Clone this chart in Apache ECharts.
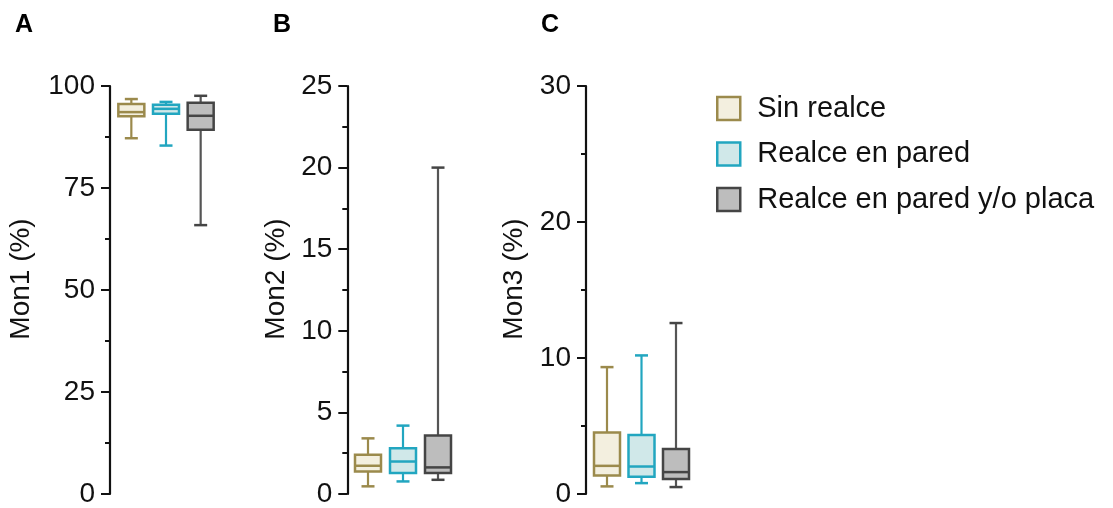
<!DOCTYPE html>
<html>
<head>
<meta charset="utf-8">
<style>
  html, body { margin: 0; padding: 0; background: #fff; }
  #main { width: 1113px; height: 508px; }
</style>
</head>
<body>
<div id="main"></div>
<script src="https://cdn.jsdelivr.net/npm/echarts@6/dist/echarts.min.js"></script>
<script>
// grupos y valores [min, q1, mediana, q3, max]
var groups = ['Sin realce', 'Realce en pared', 'Realce en pared y/o placa'];
var mon1 = [[87.2, 92.6, 93.6, 95.6, 96.8], [85.4, 93.2, 94.4, 95.4, 96.1], [65.9, 89.3, 92.7, 95.9, 97.6]];
var mon2 = [[0.47, 1.38, 1.73, 2.40, 3.41], [0.77, 1.28, 1.99, 2.80, 4.19], [0.87, 1.28, 1.63, 3.58, 20.0]];
var mon3 = [[0.56, 1.36, 2.07, 4.53, 9.33], [0.80, 1.27, 2.02, 4.34, 10.19], [0.51, 1.10, 1.61, 3.31, 12.57]];
var yNames = ['Mon1 (%)', 'Mon2 (%)', 'Mon3 (%)'];
var yMax = [100, 25, 30];
var yStep = [25, 5, 10];
var panels = ['A', 'B', 'C'];

var strokes = ['#9b8a4c', '#22a6c0', '#454545'];
var fills = ['#f3efdf', '#d0e8e9', '#bdbdbd'];
var FONT = 'Liberation Sans';

var myChart = echarts.init(document.getElementById('main'));

// caja con bigotes dibujada con las escalas del eje
function renderBox(params, api) {
    var x = api.value(0);
    var lo = api.coord([x, api.value(1)]);
    var q1 = api.coord([x, api.value(2)]);
    var med = api.coord([x, api.value(3)]);
    var q3 = api.coord([x, api.value(4)]);
    var hi = api.coord([x, api.value(5)]);
    var cx = lo[0], bw = 26, cw = 13;
    var g = x;
    var st = { stroke: strokes[g], lineWidth: 2.5 };
    var wst = { stroke: g == 2 ? '#555' : strokes[g], lineWidth: 2.2 };
    return {
        type: 'group',
        children: [
            { type: 'line', shape: { x1: cx, y1: q3[1], x2: cx, y2: hi[1] }, style: wst },
            { type: 'line', shape: { x1: cx - cw / 2, y1: hi[1], x2: cx + cw / 2, y2: hi[1] }, style: st },
            { type: 'line', shape: { x1: cx, y1: q1[1], x2: cx, y2: lo[1] }, style: wst },
            { type: 'line', shape: { x1: cx - cw / 2, y1: lo[1], x2: cx + cw / 2, y2: lo[1] }, style: st },
            { type: 'rect', shape: { x: cx - bw / 2, y: q3[1], width: bw, height: q1[1] - q3[1] },
              style: { fill: fills[g], stroke: strokes[g], lineWidth: 2.5 } },
            { type: 'line', shape: { x1: cx - bw / 2, y1: med[1], x2: cx + bw / 2, y2: med[1] }, style: st }
        ]
    };
}

var gridPos = [
    { left: 114, width: 104, offset: 4, nameGap: 75 },
    { left: 350.5, width: 105, offset: 3.2, nameGap: 57 },
    { left: 589.75, width: 103.5, offset: 3.75, nameGap: 58 }
];
var allData = [mon1, mon2, mon3];

var grids = [], xAxes = [], yAxes = [], series = [], titles = [];
var titleX = [10, 268, 536];
for (var p = 0; p < 3; p++) {
    grids.push({ left: gridPos[p].left, width: gridPos[p].width, top: 86, height: 410 });
    xAxes.push({ type: 'category', gridIndex: p, data: groups, show: false });
    yAxes.push({
        type: 'value', gridIndex: p, min: 0, max: yMax[p], interval: yStep[p],
        offset: gridPos[p].offset,
        name: yNames[p], nameLocation: 'middle', nameGap: gridPos[p].nameGap,
        nameTextStyle: { fontSize: 28, color: '#111', fontFamily: FONT, padding: [0, 0, 0, 22] },
        axisLine: { show: true, lineStyle: { color: '#111', width: 2.2 } },
        axisTick: { show: true, length: 9, lineStyle: { color: '#111', width: 2 } },
        minorTick: { show: true, splitNumber: 2, length: 5, lineStyle: { color: '#111', width: 2 } },
        splitLine: { show: false },
        axisLabel: { fontSize: 28, color: '#111', fontFamily: FONT, margin: 15 }
    });
    titles.push({ text: panels[p], left: titleX[p], top: 8,
        textStyle: { fontSize: 25, fontWeight: 'bold', color: '#000', fontFamily: FONT } });
    for (var g = 0; g < 3; g++) {
        var d = allData[p][g];
        series.push({
            name: groups[g], type: 'custom', xAxisIndex: p, yAxisIndex: p,
            renderItem: renderBox,
            encode: { x: 0, y: [1, 2, 3, 4, 5] },
            itemStyle: { color: fills[g], borderColor: strokes[g] },
            data: [[g, d[0], d[1], d[2], d[3], d[4]]]
        });
    }
}

var option = {
    animation: false,
    title: titles,
    grid: grids,
    xAxis: xAxes,
    yAxis: yAxes,
    legend: {
        orient: 'vertical', left: 711, top: 89,
        itemWidth: 23, itemHeight: 23, itemGap: 16.5,
        icon: 'rect',
        textStyle: { fontSize: 29, color: '#111', fontFamily: FONT, padding: [0, 0, 0, 12] },
        data: groups.map(function (n, i) {
            return { name: n, itemStyle: { color: fills[i], borderColor: strokes[i], borderWidth: 2.5 } };
        })
    },
    series: series
};
myChart.setOption(option);
</script>
</body>
</html>
